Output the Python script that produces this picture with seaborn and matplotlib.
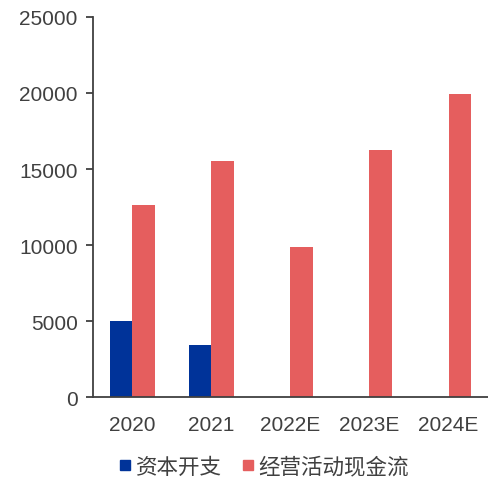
import pandas as pd
import seaborn as sns
import matplotlib.pyplot as plt
from matplotlib.lines import Line2D

years = ['2020', '2021', '2022E', '2023E', '2024E']
capex = [4980, 3430, 0, 0, 0]
op_cash = [12660, 15560, 9880, 16220, 19920]
series = ['资本开支', '经营活动现金流']
colors = ['#003399', '#E55E5E']

df = pd.DataFrame({
    'year': years * 2,
    'value': capex + op_cash,
    'item': [series[0]] * len(years) + [series[1]] * len(years),
})

sns.set_style('white')
plt.rcParams['font.family'] = ['Liberation Sans', 'Noto Sans CJK SC', 'DejaVu Sans']

fig = plt.figure(figsize=(4.89, 4.85), dpi=100)
ax = fig.add_axes([0.190, 0.179, 0.808, 0.784])

sns.barplot(data=df, x='year', y='value', hue='item', palette=colors,
            width=0.56, gap=0, saturation=1, linewidth=0, ax=ax, legend=False)

ax.set_ylim(0, 25000)
ax.set_xlim(-0.5, len(years) - 0.5)
ax.set_yticks(range(0, 25001, 5000))
ax.set_xlabel('')
ax.set_ylabel('')

gray = '#404040'
for side in ['top', 'right']:
    ax.spines[side].set_visible(False)
for side in ['left', 'bottom']:
    ax.spines[side].set_color(gray)
    ax.spines[side].set_linewidth(1.3)

# x ticks sit on the category boundaries, labels at the centres
ax.set_xticks([i - 0.5 for i in range(len(years) + 1)], minor=False)
ax.set_xticklabels([''] * (len(years) + 1))
ax.set_xticks(range(len(years)), minor=True)
ax.set_xticklabels(years, minor=True)
ax.tick_params(axis='x', which='major', direction='out', length=5, width=1.3, color=gray)
ax.tick_params(axis='x', which='minor', length=0, pad=13, labelsize=15, labelcolor=gray)
ax.tick_params(axis='y', direction='out', length=5, width=1.3, color=gray,
               labelsize=15, labelcolor=gray, pad=6, left=True)

handles = [Line2D([], [], marker='s', linestyle='', markersize=6.5,
                  markerfacecolor=c, markeredgecolor=c) for c in colors]
fig.legend(handles, series, loc='center', bbox_to_anchor=(0.54, 0.035),
           ncol=2, frameon=False, fontsize=15.5, handlelength=0.6,
           handletextpad=0.2, columnspacing=0.9, labelcolor=gray)

fig.savefig('out.png', dpi=100)
